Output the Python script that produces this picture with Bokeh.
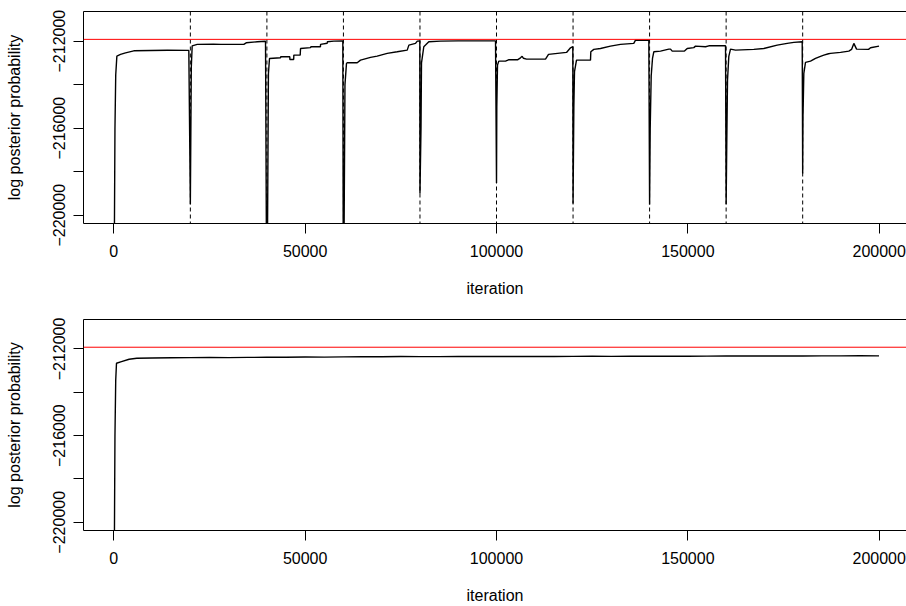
from bokeh.plotting import figure
from bokeh.models import Range1d, FixedTicker, LinearAxis, Span
from bokeh.layouts import column
from bokeh.embed import file_html
from bokeh.resources import INLINE

# ---------------- data ----------------
x_ticks = [0, 50000, 100000, 150000, 200000]
x_tick_labels = ["0", "50000", "100000", "150000", "200000"]
y_ticks = [-220000, -218000, -216000, -214000, -212000]
y_tick_labels = ["\u2212220000", "", "\u2212216000", "", "\u2212212000"]

restart_iters = [20000, 40000, 60000, 80000, 100000, 120000, 140000, 160000, 180000]
best_logp = -211920

# top panel: ten restarted chains (iteration, log posterior)
iter_top = [
    0, 300, 500, 800, 1750, 3060, 5230, 9590, 14000, 19600,
    20000, 20250, 20480, 21790, 26000, 28000, 33970, 34590, 37470, 39640,
    40000, 40400, 40680, 43560, 43600, 45990, 46000, 47000, 47040, 48700, 48790,
    51400, 51500, 54000, 54010, 55760, 55800, 57490, 59840,
    60000, 60400, 60800, 60980, 63600, 64460, 67080, 68820, 71440, 74050,
    76670, 77100, 78830, 79300, 79960,
    80000, 80270, 80400, 81000, 81450, 82310, 85370, 90000, 99740,
    100000, 100080, 100260, 100600, 102350, 103130, 105480, 106270, 106700,
    107050, 107840, 112800, 113590, 115940, 118290, 119340, 119940,
    120000, 120210, 120380, 120900, 124560, 124640, 125420, 127170, 129780,
    132390, 135870, 136320, 139800,
    140000, 140160, 140420, 140760, 141100, 142850, 145030, 145470, 145910,
    149120, 149830, 151550, 152000, 154610, 155480, 159840,
    160000, 160180, 160360, 160700, 161140, 162450, 167230, 169850, 173350,
    175960, 177690, 179880,
    180000, 180080, 180300, 180740, 182050, 183350, 184660, 185530, 186760,
    187280, 189890, 192060, 192770, 193370, 194080, 197210, 197730, 199950,
]
logp_top = [
    -226000, -216000, -213560, -212690, -212612, -212538, -212446, -212430, -212420, -212428,
    -219495, -213200, -212216, -212152, -212140, -212150, -212152, -212078, -212032, -212010,
    -226000, -213500, -212797, -212768, -212720, -212720, -212842, -212842, -212644, -212644, -212338,
    -212300, -212260, -212260, -212152, -212100, -212032, -212000, -211990,
    -226000, -214000, -213025, -212997, -212997, -212874, -212750, -212690, -212566, -212492,
    -212414, -212184, -212106, -212000, -211990,
    -219003, -216000, -213000, -212260, -212184, -212032, -212000, -211990, -211990,
    -218515, -215000, -213100, -212920, -212920, -212860, -212860, -212768, -212700,
    -212790, -212828, -212828, -212612, -212566, -212520, -212308, -212250,
    -219463, -215000, -213400, -212874, -212874, -212492, -212382, -212338, -212230,
    -212152, -212106, -211954, -211960,
    -219510, -216000, -213600, -212797, -212492, -212460, -212368, -212368, -212460,
    -212460, -212338, -212300, -212230, -212260, -212216, -212216,
    -219495, -216500, -213800, -212700, -212368, -212414, -212380, -212338, -212184,
    -212106, -212060, -212032,
    -218083, -215500, -213486, -212980, -212920, -212797, -212700, -212644, -212580,
    -212566, -212520, -212460, -212382, -212106, -212368, -212380, -212308, -212230,
]

# bottom panel: one long chain
iter_bottom = [
    0, 300, 500, 700, 2000, 4000, 6000, 10000, 15000, 20000, 25000, 30000,
    35000, 40000, 45000, 50000, 55000, 60000, 65000, 70000, 75000, 80000,
    85000, 90000, 95000, 100000, 105000, 110000, 115000, 120000, 125000,
    130000, 135000, 140000, 145000, 150000, 155000, 160000, 165000, 170000,
    175000, 180000, 185000, 190000, 195000, 199950,
]
logp_bottom = [
    -226000, -216000, -213429, -212660, -212585, -212475, -212430, -212420,
    -212405, -212400, -212395, -212398, -212390, -212385, -212380, -212370,
    -212375, -212365, -212360, -212362, -212350, -212355, -212352, -212348,
    -212350, -212345, -212350, -212342, -212345, -212340, -212338, -212342,
    -212336, -212335, -212338, -212333, -212330, -212325, -212322, -212326,
    -212320, -212322, -212318, -212320, -212316, -212320,
]

FONT = "Liberation Sans"


def make_panel(xs, ys, dashes, height, border_top, border_bottom):
    p = figure(width=906, height=height,
               x_range=Range1d(-7920, 207130), y_range=Range1d(-220380, -210640),
               output_backend="svg", toolbar_location=None,
               min_border_left=83, min_border_right=0,
               min_border_top=border_top, min_border_bottom=border_bottom)
    p.xgrid.visible = False
    p.ygrid.visible = False
    p.outline_line_color = None
    p.background_fill_color = "white"
    p.border_fill_color = "white"

    for ax in (p.xaxis[0], p.yaxis[0]):
        ax.axis_line_color = "black"
        ax.major_tick_line_color = "black"
        ax.major_tick_out = 10
        ax.major_tick_in = 0
        ax.minor_tick_line_color = None
        ax.major_label_text_font = FONT
        ax.major_label_text_font_size = "16px"
        ax.major_label_text_color = "black"
        ax.axis_label_text_font = FONT
        ax.axis_label_text_font_size = "16px"
        ax.axis_label_text_font_style = "normal"
        ax.axis_label_text_color = "black"

    p.xaxis.ticker = FixedTicker(ticks=x_ticks)
    p.xaxis.major_label_overrides = {t: l for t, l in zip(x_ticks, x_tick_labels)}
    p.xaxis.axis_label = "iteration"
    p.xaxis.major_label_standoff = 11
    p.xaxis.axis_label_standoff = 20

    p.yaxis.ticker = FixedTicker(ticks=y_ticks)
    p.yaxis.major_label_overrides = {t: l for t, l in zip(y_ticks, y_tick_labels)}
    p.yaxis.major_label_orientation = "vertical"
    p.yaxis.axis_label = "log posterior probability"
    p.yaxis.major_label_standoff = 8
    p.yaxis.axis_label_standoff = 28

    top = LinearAxis(ticker=FixedTicker(ticks=[]), major_label_text_font_size="0px",
                     major_tick_out=0, major_tick_in=0, major_label_standoff=0,
                     minor_tick_line_color=None, axis_line_color="black")
    p.add_layout(top, "above")

    if dashes:
        for xv in restart_iters:
            p.add_layout(Span(location=xv, dimension="height", line_color="black",
                              line_width=1, line_dash="4 3"))
    p.add_layout(Span(location=best_logp, dimension="width", line_color="#ff0000",
                      line_width=1))
    p.line(xs, ys, line_color="black", line_width=1.4)
    return p


p1 = make_panel(iter_top, logp_top, True, 300, 11, 77)
p2 = make_panel(iter_bottom, logp_bottom, False, 306, 19, 75)

layout = column(p1, p2, spacing=0)
open("out.html", "w").write(file_html(layout, INLINE))
